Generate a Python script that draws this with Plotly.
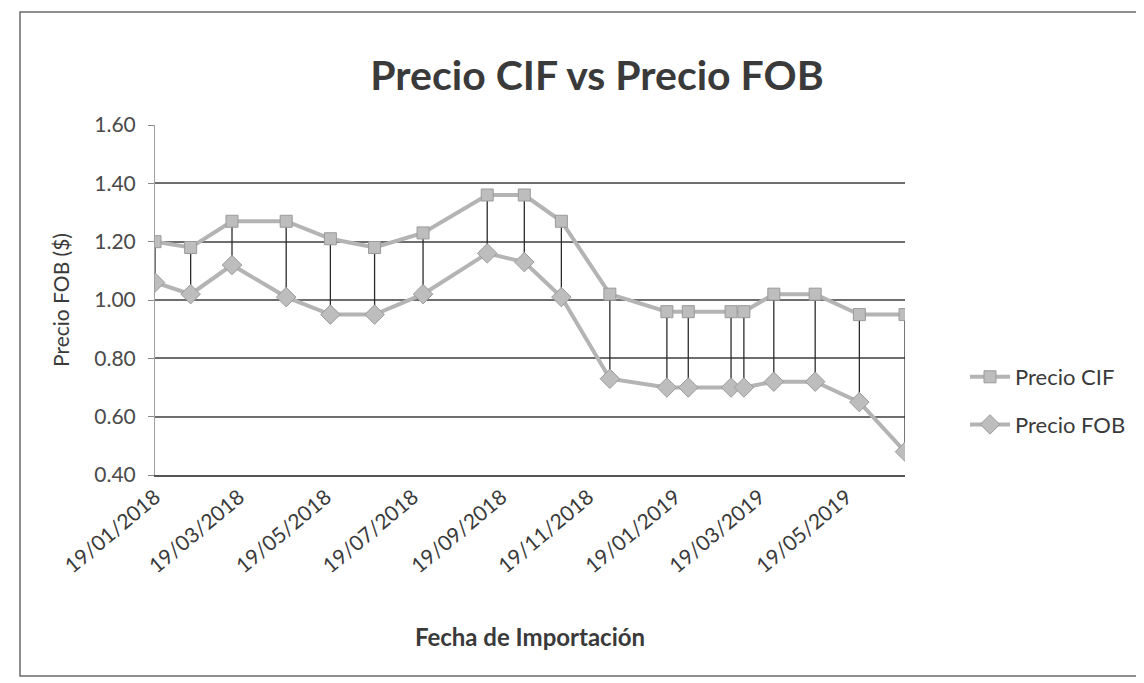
import plotly.graph_objects as go

# ---- data ----
fechas = ["2018-01-19", "2018-02-13", "2018-03-14", "2018-04-21", "2018-05-22",
          "2018-06-22", "2018-07-26", "2018-09-09", "2018-10-05", "2018-10-31",
          "2018-12-04", "2019-01-13", "2019-01-28", "2019-02-27", "2019-03-08",
          "2019-03-29", "2019-04-27", "2019-05-28", "2019-06-29"]
precio_cif = [1.20, 1.18, 1.27, 1.27, 1.21, 1.18, 1.23, 1.36, 1.36, 1.27,
              1.02, 0.96, 0.96, 0.96, 0.96, 1.02, 1.02, 0.95, 0.95]
precio_fob = [1.06, 1.02, 1.12, 1.01, 0.95, 0.95, 1.02, 1.16, 1.13, 1.01,
              0.73, 0.70, 0.70, 0.70, 0.70, 0.72, 0.72, 0.65, 0.48]
y_ticks = [0.40, 0.60, 0.80, 1.00, 1.20, 1.40, 1.60]

W, H = 1144, 683
OFF = 8  # browser body margin
ML, MR, MT, MB = 155 - OFF, 239 + OFF, 125 - OFF, 208 + OFF
FONT = "Lato"

fig = go.Figure()

# high-low lines between the two series
hx, hy = [], []
for d, c, f in zip(fechas, precio_cif, precio_fob):
    hx += [d, d, None]
    hy += [c, f, None]
fig.add_trace(go.Scatter(x=hx, y=hy, mode="lines", showlegend=False,
                         hoverinfo="skip",
                         line=dict(color="#2b2b2b", width=1.3)))

fig.add_trace(go.Scatter(
    x=fechas, y=precio_cif, name="Precio CIF", mode="lines+markers",
    legendgroup="cif",
    line=dict(color="#b4b4b4", width=4),
    marker=dict(symbol="square", size=12, color="#bdbdbd",
                line=dict(color="#9a9a9a", width=1))))
fig.add_trace(go.Scatter(
    x=fechas, y=precio_fob, name="Precio FOB", mode="lines+markers",
    legendgroup="fob",
    line=dict(color="#b4b4b4", width=4),
    marker=dict(symbol="diamond", size=15, color="#bdbdbd",
                line=dict(color="#9a9a9a", width=1))))

# chart-area border (screen px -> paper coords)
pw, ph = W - ML - MR, H - MT - MB
def px(xp): return (xp - OFF - ML) / pw
def py(yp): return (H - MB - (yp - OFF)) / ph
fig.add_shape(type="rect", xref="paper", yref="paper",
              x0=px(20), x1=px(1138), y0=py(676), y1=py(12),
              line=dict(color="#6a6a6a", width=1.5), layer="below")

fig.update_layout(
    width=W, height=H,
    margin=dict(l=ML, r=MR, t=MT, b=MB),
    paper_bgcolor="white", plot_bgcolor="white",
    font=dict(family=FONT, color="#404040"),
    title=dict(text="<b>Precio CIF vs Precio FOB</b>",
               x=(597 - OFF) / W, xanchor="center",
               y=1 - (76 - OFF) / H, yanchor="middle",
               font=dict(family=FONT, size=41, color="#3a3a3a")),
    showlegend=True,
    legend=dict(x=px(965), xanchor="left", y=py(401), yanchor="middle",
                font=dict(family=FONT, size=22, color="#3a3a3a"),
                tracegroupgap=16, bgcolor="rgba(0,0,0,0)",
                itemwidth=40),
    xaxis=dict(
        type="date",
        range=[fechas[0], fechas[-1]],
        tick0=fechas[0], dtick="M2", tickformat="%d/%m/%Y",
        tickangle=-40,
        tickfont=dict(family=FONT, size=21, color="#3a3a3a"),
        showgrid=False, zeroline=False,
        showline=True, linecolor="#555555", linewidth=1.5,
        ticks="",
        title=dict(text="<b>Fecha de Importación</b>", standoff=53,
                   font=dict(family=FONT, size=24, color="#3a3a3a")),
    ),
    yaxis=dict(
        range=[0.40, 1.60], tickvals=y_ticks, tickformat=".2f",
        tickfont=dict(family=FONT, size=21, color="#4a4a4a"),
        ticklabelstandoff=8,
        showgrid=True, gridcolor="#6e6e6e", gridwidth=1.5,
        zeroline=False,
        showline=True, linecolor="#a0a0a0", linewidth=1,
        ticks="outside", ticklen=6, tickcolor="#8a8a8a",
        title=dict(text="Precio FOB ($)", standoff=18,
                   font=dict(family=FONT, size=21, color="#3a3a3a")),
    ),
)

fig.write_html("out.html")
